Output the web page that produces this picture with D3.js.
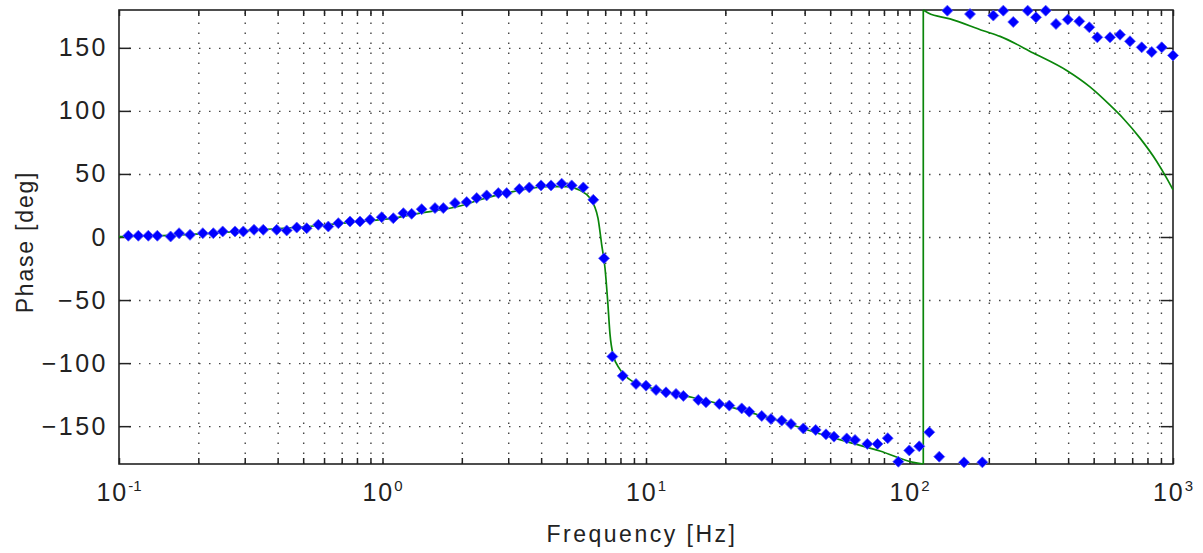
<!DOCTYPE html>
<html>
<head>
<meta charset="utf-8">
<script src="https://cdn.jsdelivr.net/npm/d3@7"></script>
<style>
  body { margin: 0; background: #fff; }
  svg { display: block; font-family: "Liberation Sans", Arial, sans-serif; }
</style>
</head>
<body>
<svg id="chart"></svg>
<script>
const width = 1203
const height = 553

const margin = { top: 10, right: 30, bottom: 89, left: 119 }

// measured points (Hz, deg)
const measFreq = [
  0.1085, 0.1184, 0.1292, 0.1398, 0.157, 0.169, 0.186, 0.208, 0.228, 0.2475, 0.2756, 0.2963,
  0.3253, 0.3528, 0.3967, 0.4329, 0.4726, 0.5156, 0.5706, 0.6228, 0.6797, 0.7529, 0.8215, 0.8966,
  0.993, 1.099, 1.20, 1.29, 1.408, 1.582, 1.701, 1.884, 2.087, 2.278, 2.485,
  2.751, 2.96, 3.305, 3.607, 3.996, 4.361, 4.787, 5.224, 5.781, 6.31, 6.928,
  7.451, 8.157, 9.165, 10.0, 10.92, 11.91, 13.0, 13.86, 15.79, 16.89, 18.97, 20.71,
  23.08, 24.66, 27.49, 29.81, 32.73, 35.5, 39.54, 44.06, 48.2, 51.7, 57.77, 62.13,
  69.16, 75.6, 82.67, 90.7, 99.8, 108.9, 118.9, 129.7,
  139.2, 161, 169.7, 189, 208, 227, 247.6, 280.9, 302, 328.8, 359.7,
  398.6, 441.1, 481.4, 516.2, 576.8, 629.4, 686.7, 760.6, 830.5, 906.3, 1000
]
const measPhase = [
  1.0, 1.0, 1.0, 1.0, 0.4, 3.0, 1.7, 3.0, 3.0, 4.4, 4.4, 4.4,
  5.7, 5.7, 5.7, 5.2, 7.5, 7.0, 9.7, 8.3, 11.0, 12.3, 12.3, 13.7,
  15.7, 14.9, 18.9, 18.4, 22.1, 22.9, 22.9, 26.9, 27.7, 30.9, 33.0,
  34.8, 34.8, 38.0, 39.3, 40.9, 40.9, 42.3, 40.9, 39.3, 29.5, -16.9,
  -94.8, -110.1, -116.5, -117.9, -121.3, -123.2, -124.4, -126, -129.2, -131.1, -132.4, -133.7,
  -135.9, -138.5, -141.9, -144.3, -145.6, -148.3, -151.8, -153, -156.5, -158.3, -159.7, -160.9,
  -164.1, -164.1, -159.5, -178.2, -169.2, -166, -154.8, -174.2,
  179.5, -178.7, 176.8, -178.7, 175.6, 179.5, 170.5, 179.5, 174.2, 179.5, 168.9,
  172.4, 171, 166.3, 158.3, 158.3, 160.4, 155.2, 150.4, 146.7, 150.4, 144
]

// fitted model curve, below the wrap
const modelFreq = [
  0.1, 0.11, 0.203, 0.314, 0.579, 0.8, 1.096, 1.305, 2.0, 2.345, 3.128, 4.211, 5.0, 5.617,
  6.131, 6.573, 6.789, 6.99, 7.156, 7.30, 7.494, 7.965, 8.926, 10.06, 13.46, 17.96,
  24.11, 32.25, 43.03, 57.77, 77.27, 103.4, 112.8
]
const modelPhase = [
  0.3, 0.4, 2.5, 5.2, 9.1, 12, 14.9, 17.9, 25, 29.5, 36, 40, 40, 37,
  30.8, 15, -6, -24.8, -51, -77, -93, -105, -114.7, -118.7, -125, -131,
  -138.5, -145.9, -154.4, -162.3, -169.7, -178.7, -180
]
// model curve after the +/-180 wrap
const modelFreqHi = [112.8, 117.8, 142.5, 190.6, 220.6, 295, 395, 484, 576.8, 647.6, 749.5, 867.5, 946, 1000]
const modelPhaseHi = [180, 177.6, 173, 163.6, 159.1, 145.9, 132, 119, 104.5, 94, 78.4, 59.9, 46.7, 37.5]

const yTicks = [-150, -100, -50, 0, 50, 100, 150]
const decades = [-1, 0, 1, 2, 3]

const svg = d3.select("#chart")
  .attr("width", width)
  .attr("height", height)

const w = width - margin.left - margin.right
const h = height - margin.top - margin.bottom

const x = d3.scaleLog().domain([0.1, 1000]).range([0, w])
const y = d3.scaleLinear().domain([-180, 180]).range([h, 0])

// all 1..9 x 10^n values inside the range
let logTicks = []
decades.forEach(p => {
  for (let m = 1; m <= 9; m++) {
    const v = m * Math.pow(10, p)
    if (v >= 0.1 && v <= 1000) logTicks.push(+v.toPrecision(3))
  }
})

const g = svg.append("g").attr("transform", `translate(${margin.left},${margin.top})`)

// grid
const gridStyle = sel => {
  sel.select(".domain").remove()
  sel.selectAll("line")
    .attr("stroke", "#444")
    .attr("stroke-width", 1.4)
    .attr("stroke-dasharray", "1.5 8.5")
}

g.append("g")
  .attr("transform", `translate(0,${h})`)
  .call(d3.axisBottom(x).tickValues(logTicks.filter(v => v > 0.1 && v < 1000)).tickSize(-h).tickFormat(""))
  .call(gridStyle)

g.append("g")
  .call(d3.axisLeft(y).tickValues(yTicks).tickSize(-w).tickFormat(""))
  .call(gridStyle)

// ticks, pointing inward
const tickStyle = sel => {
  sel.select(".domain").remove()
  sel.selectAll("line").attr("stroke", "#222").attr("stroke-width", 1.5)
}

g.append("g")
  .attr("transform", `translate(0,${h})`)
  .call(d3.axisBottom(x).tickValues(logTicks).tickSize(-6).tickFormat(""))
  .call(tickStyle)
g.append("g")
  .call(d3.axisTop(x).tickValues(logTicks).tickSize(-6).tickFormat(""))
  .call(tickStyle)
g.append("g")
  .attr("transform", `translate(${w},0)`)
  .call(d3.axisRight(y).tickValues(yTicks).tickSize(-12).tickFormat(""))
  .call(tickStyle)

const yAxis = g.append("g")
  .call(d3.axisLeft(y).tickValues(yTicks).tickSize(-12).tickPadding(11)
    .tickFormat(d => d < 0 ? "\u2212" + (-d) : d))
  .call(tickStyle)

yAxis.selectAll("text")
  .attr("x", -11)
  .attr("font-size", 25)
  .attr("font-family", "Liberation Sans, Arial, sans-serif")
  .attr("letter-spacing", "2.5px")
  .attr("fill", "#222")

// frame
g.append("rect")
  .attr("width", w)
  .attr("height", h)
  .attr("fill", "none")
  .attr("stroke", "#222")
  .attr("stroke-width", 1.6)

// x labels 10^n
const xl = g.append("g")
  .selectAll("text")
  .data(decades)
  .join("text")
  .attr("x", d => x(Math.pow(10, d)))
  .attr("y", h + 37)
  .attr("text-anchor", "middle")
  .attr("fill", "#222")
  .attr("font-size", 25)
  .attr("letter-spacing", "2px")

xl.append("tspan").text("10")
xl.append("tspan")
  .attr("font-size", 15)
  .attr("dy", -10)
  .attr("letter-spacing", "0px")
  .text(d => d)

// model line: lower branch, wrap, upper branch
const curve = d3.line()
  .x(d => x(d[0]))
  .y(d => y(d[1]))
  .curve(d3.curveMonotoneX)

const lo = modelFreq.map((f, i) => [f, modelPhase[i]])
const hi = modelFreqHi.map((f, i) => [f, modelPhaseHi[i]])
const jump = [lo[lo.length - 1], hi[0]]

const model = g.append("g")
  .attr("fill", "none")
  .attr("stroke", "#0a860a")
  .attr("stroke-width", 1.7)

model.append("path").attr("d", curve(lo))
model.append("path").attr("d", d3.line().x(d => x(d[0])).y(d => y(d[1]))(jump))
model.append("path").attr("d", curve(hi))

// measured markers
const dm = 5.5
g.append("g")
  .selectAll("path")
  .data(measPhase)
  .join("path")
  .attr("transform", (d, i) => `translate(${x(measFreq[i])},${y(d)})`)
  .attr("d", `M0,${-dm}L${dm},0L0,${dm}L${-dm},0Z`)
  .attr("fill", "#0000ff")
  .attr("stroke", "#5a5aff")
  .attr("stroke-width", 0.8)

// axis titles
svg.append("text")
  .attr("x", margin.left + w / 2 - 4)
  .attr("y", 542)
  .attr("text-anchor", "middle")
  .attr("font-size", 23)
  .attr("letter-spacing", "2.5px")
  .attr("fill", "#222")
  .text("Frequency [Hz]")

svg.append("text")
  .attr("transform", `translate(33,${margin.top + h / 2 + 5}) rotate(-90)`)
  .attr("text-anchor", "middle")
  .attr("font-size", 23)
  .attr("letter-spacing", "1.8px")
  .attr("fill", "#222")
  .text("Phase [deg]")
</script>
</body>
</html>
